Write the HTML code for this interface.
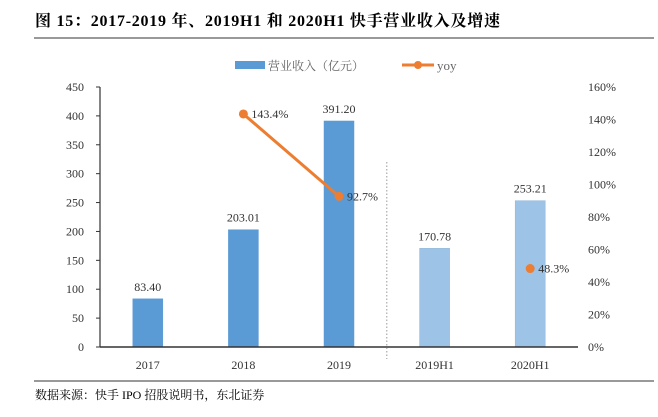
<!DOCTYPE html>
<html><head><meta charset="utf-8"><style>
body{margin:0;background:#fff;width:658px;height:412px;overflow:hidden;font-family:"Liberation Serif","Noto Serif CJK SC",serif;}
svg text{font-family:"Liberation Serif","Noto Serif CJK SC",serif;}
</style></head><body>
<svg id="c" width="658" height="412" xmlns="http://www.w3.org/2000/svg">
<text x="35" y="26" font-size="16" font-weight="bold" fill="#000" textLength="465" lengthAdjust="spacing">图  15：2017-2019 年、2019H1 和 2020H1 快手营业收入及增速</text>
<line x1="34" y1="38" x2="654" y2="38" stroke="#333" stroke-width="1"/>
<g>
<rect x="235" y="61" width="30" height="8" fill="#5b9bd5"/>
<text x="268" y="70" font-size="12" fill="#666">营业收入（亿元）</text>
<line x1="402" y1="65" x2="434" y2="65" stroke="#ed7d31" stroke-width="3"/>
<circle cx="418" cy="65" r="4" fill="#ed7d31"/>
<text x="437" y="70" font-size="13" fill="#666">yoy</text>
</g>
<g id="plot"></g>
<line x1="34" y1="381" x2="654" y2="381" stroke="#333" stroke-width="1"/>
<text x="35" y="399" font-size="12" fill="#000">数据来源：快手 IPO 招股说明书，东北证券</text>
</svg>
<script>
const categories=["2017","2018","2019","2019H1","2020H1"];
const revenue=[83.40,203.01,391.20,170.78,253.21];
const revenueLabels=["83.40","203.01","391.20","170.78","253.21"];
const yoy=[null,143.4,92.7,null,48.3];
const yoyLabels=[null,"143.4%","92.7%",null,"48.3%"];
const leftTicks=[0,50,100,150,200,250,300,350,400,450];
const rightTicks=[0,20,40,60,80,100,120,140,160];
const ns="http://www.w3.org/2000/svg";
const g=document.getElementById("plot");
const X0=100,X1=578,Y0=347,Y1=87;
const slot=(X1-X0)/categories.length;
const xc=i=>X0+slot*(i+0.5);
const yL=v=>Y0-(v/450)*(Y0-Y1);
const yR=v=>Y0-(v/160)*(Y0-Y1);
function mk(t,a){const e=document.createElementNS(ns,t);for(const k in a)e.setAttribute(k,a[k]);g.appendChild(e);return e;}
leftTicks.forEach(v=>{
 const t=mk("text",{x:84,y:yL(v)+4,"font-size":12,"text-anchor":"end",fill:"#333"});t.textContent=v;
 
 
 const l=mk("line",{x1:X0-4,x2:X0,y1:yL(v),y2:yL(v),stroke:"#333"});
 
 
});
rightTicks.forEach(v=>{
 const t=mk("text",{x:588,y:yR(v)+4,"font-size":12,fill:"#333"});t.textContent=v+"%";
 
 
});
revenue.forEach((v,i)=>{
 const r=mk("rect",{x:xc(i)-15,y:yL(v),width:30,height:Y0-yL(v),fill:i<3?"#5b9bd5":"#9dc3e6",stroke:i<3?"#5b9bd5":"#8eb4d8","stroke-width":0.5});
 
 
 const t=mk("text",{x:xc(i),y:yL(v)-8,"font-size":12,"text-anchor":"middle",fill:"#333"});t.textContent=revenueLabels[i];
 
 
 const c=mk("text",{x:xc(i),y:Y0+22,"font-size":12,"text-anchor":"middle",fill:"#333"});c.textContent=categories[i];
 
 
});
const ax=mk("line",{x1:X0,x2:X0,y1:Y1,y2:Y0,stroke:"#333","stroke-width":1.2});


const bx=mk("line",{x1:X0,x2:X1,y1:Y0,y2:Y0,stroke:"#333","stroke-width":1.5});


const sep=mk("line",{x1:X0+slot*3,x2:X0+slot*3,y1:Y1+75,y2:Y0+12,stroke:"#999","stroke-dasharray":"1.5,2"});


const ln=mk("line",{x1:xc(1),y1:yR(yoy[1]),x2:xc(2),y2:yR(yoy[2]),stroke:"#ed7d31","stroke-width":3});


yoy.forEach((v,i)=>{
 if(v===null)return;
 const c=mk("circle",{cx:xc(i),cy:yR(v),r:4.5,fill:"#ed7d31"});
 
 
 const t=mk("text",{x:xc(i)+8,y:yR(v)+4,"font-size":12,fill:"#333"});t.textContent=yoyLabels[i];
 
 
});
</script>
</body></html>
